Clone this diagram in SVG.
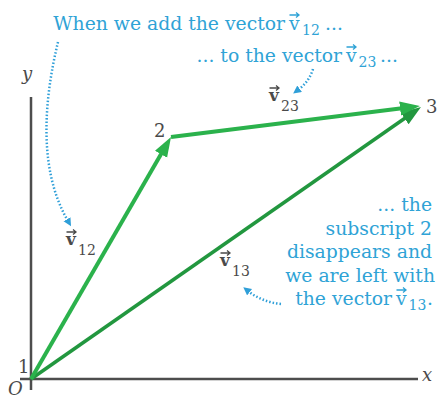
<svg xmlns="http://www.w3.org/2000/svg" width="439" height="399" viewBox="0 0 439 399">
<style>
.note{font-family:"DejaVu Serif","Liberation Serif",serif;font-size:18.8px;fill:#2fa3d6}
.lbl{font-family:"DejaVu Serif","Liberation Serif",serif;font-size:18px;fill:#4a4a4a}
.vec{font-family:"DejaVu Serif","Liberation Serif",serif;font-size:17px;fill:#4a4a4a}
.vb{font-weight:bold}
.sub{font-size:14px}
.axis{stroke:#4d4d4d;stroke-width:2.5;fill:none}
.dot{stroke:#2f9fd8;stroke-width:2.5;stroke-dasharray:1.5 2;fill:none}
.ag{stroke:#4a4a4a;stroke-width:1.3;fill:none}
.ac{stroke:#2fa3d6;stroke-width:1.3;fill:none}
</style>
<defs>
<marker id="hg" markerUnits="userSpaceOnUse" markerWidth="22" markerHeight="16" refX="6" refY="7" orient="auto"><path d="M0,0 L20,7 L0,14 z" fill="#2bb24c"/></marker>
<marker id="hd" markerUnits="userSpaceOnUse" markerWidth="22" markerHeight="16" refX="6" refY="7" orient="auto"><path d="M0,0 L20,7 L0,14 z" fill="#22973f"/></marker>
<marker id="hc" markerUnits="userSpaceOnUse" markerWidth="10" markerHeight="10" refX="2" refY="4" orient="auto"><path d="M0,0 L8,4 L0,8 z" fill="#2f9fd8"/></marker>
<path id="va" d="M0,0 H9 M6.5,-2.5 L9.5,0 L6.5,2.5"/>
</defs>
<g id="axes">
<line class="axis" x1="31" y1="97" x2="31" y2="390"/>
<line class="axis" x1="20" y1="379" x2="418" y2="379"/>
<text class="lbl" x="22" y="80" font-style="italic">y</text>
<text class="lbl" x="422" y="381" font-style="italic">x</text>
<text class="lbl" x="8" y="395" font-style="italic">O</text>
</g>
<g id="connectors">
<line x1="31" y1="379" x2="409.5" y2="115" stroke="#22973f" stroke-width="3.5" marker-end="url(#hd)"/>
<line x1="31" y1="379" x2="164" y2="149" stroke="#2bb24c" stroke-width="4" marker-end="url(#hg)"/>
<line x1="171" y1="137" x2="406" y2="107.7" stroke="#2bb24c" stroke-width="4" marker-end="url(#hg)"/>
<path class="dot" d="M58,42 C44,100 38,170 68,221" marker-end="url(#hc)"/>
<path class="dot" d="M313,69 Q309,82 298,90" marker-end="url(#hc)"/>
<path class="dot" d="M281,304 Q262,302 248,291" marker-end="url(#hc)"/>
</g>
<g id="p1"><text class="lbl" x="18" y="373">1</text></g>
<g id="p2"><text class="lbl" x="154" y="137">2</text></g>
<g id="p3"><text class="lbl" x="426" y="113">3</text></g>
<g id="v12"><text class="vec" x="66" y="245"><tspan class="vb">v</tspan><tspan class="sub" x="78" y="255">12</tspan></text><use href="#va" class="ag" x="66.5" y="232"/></g>
<g id="v23"><text class="vec" x="269" y="101"><tspan class="vb">v</tspan><tspan class="sub" x="281" y="111">23</tspan></text><use href="#va" class="ag" x="269.5" y="88"/></g>
<g id="v13"><text class="vec" x="220" y="266"><tspan class="vb">v</tspan><tspan class="sub" x="232" y="276">13</tspan></text><use href="#va" class="ag" x="220.5" y="253"/></g>
<g id="note1"><text class="note" x="285" y="30" text-anchor="end">When we add the vector</text><text class="note" x="289" y="30">v<tspan class="sub" x="302" y="35">12</tspan><tspan x="325" y="30">...</tspan></text><use href="#va" class="ac" x="289.5" y="15"/></g>
<g id="note2"><text class="note" x="342" y="62" text-anchor="end">... to the vector</text><text class="note" x="346" y="62">v<tspan class="sub" x="358.5" y="67">23</tspan><tspan x="380" y="62">...</tspan></text><use href="#va" class="ac" x="346.5" y="47"/></g>
<g id="note3">
<text class="note" x="432" y="211" text-anchor="end">... the</text>
<text class="note" x="432" y="235" text-anchor="end">subscript 2</text>
<text class="note" x="432" y="258" text-anchor="end">disappears and</text>
<text class="note" x="435" y="282" text-anchor="end">we are left with</text>
<text class="note" x="392" y="305" text-anchor="end">the vector</text>
<text class="note" x="396" y="305">v<tspan class="sub" x="408.5" y="310">13</tspan><tspan x="427" y="305">.</tspan></text>
<use href="#va" class="ac" x="396.5" y="290"/>
</g>
</svg>
